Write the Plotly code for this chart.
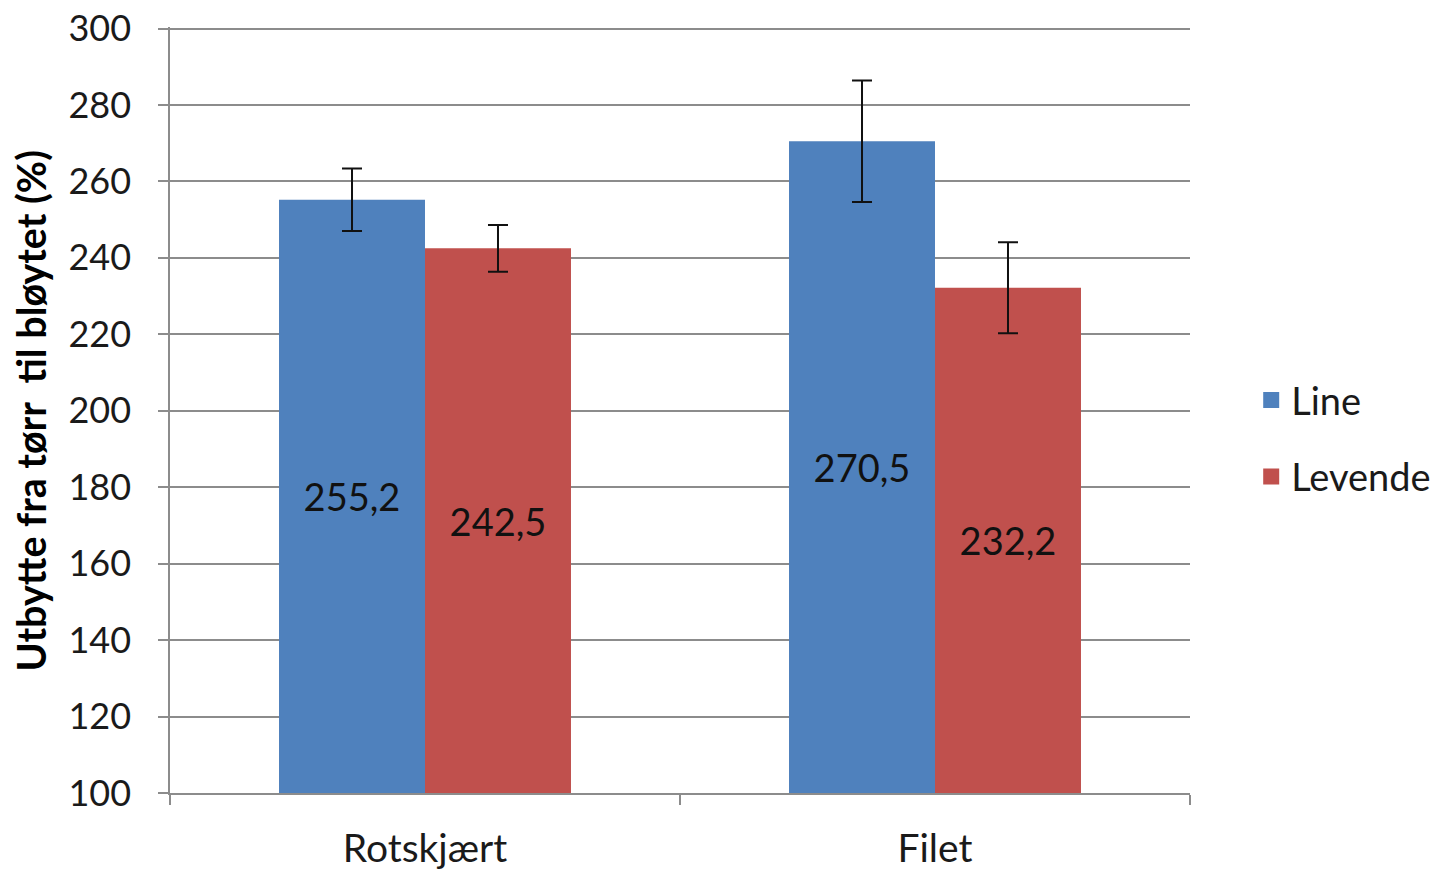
import plotly.graph_objects as go

categories = ["Rotskjært", "Filet"]
series_names = ["Line", "Levende"]
line_values = [255.2, 270.5]
levende_values = [242.5, 232.2]
line_errors = [8.2, 15.9]
levende_errors = [6.1, 11.9]
colors = ["#4F81BD", "#C0504D"]
y_ticks = [100, 120, 140, 160, 180, 200, 220, 240, 260, 280, 300]
axis_min = 100

FONT = "Lato"
TXT = "#1a1a1a"
GRID = "#8c8c8c"

fig = go.Figure()
for name, vals, errs, col in zip(series_names, [line_values, levende_values],
                                 [line_errors, levende_errors], colors):
    fig.add_trace(go.Bar(
        x=categories, y=[v - axis_min for v in vals], base=axis_min, name=name,
        customdata=vals,
        marker=dict(color=col, line=dict(width=0)),
        error_y=dict(type="data", array=errs, visible=True, color="#111111",
                     thickness=2, width=10),
        texttemplate="%{customdata:.1f}", textposition="inside", insidetextanchor="middle",
        textangle=0, textfont=dict(family=FONT, size=38, color="#111111"),
        hovertemplate="%{x}: %{customdata:.1f}<extra>" + name + "</extra>",
        showlegend=False,
    ))
    fig.add_trace(go.Scatter(
        x=[None], y=[None], mode="markers", name=name, legendgroup=name,
        marker=dict(symbol="square", size=25, color=col), showlegend=True,
    ))

fig.update_layout(
    width=1441, height=869,
    margin=dict(l=162, r=259, t=18.5, b=84),
    paper_bgcolor="white", plot_bgcolor="white",
    barmode="group", bargap=0.4275, bargroupgap=0,
    separators=", ",
    font=dict(family=FONT, size=36, color=TXT),
    legend=dict(x=1.06, y=0.463, xanchor="left", yanchor="middle",
                font=dict(family=FONT, size=38, color=TXT),
                tracegroupgap=24, bgcolor="rgba(0,0,0,0)"),
    showlegend=True,
)
fig.update_yaxes(
    range=[100, 300.4], tickvals=y_ticks, showgrid=True, gridcolor=GRID, gridwidth=1.5,
    showline=True, linecolor=GRID, linewidth=1.5, ticks="outside", ticklen=10,
    tickcolor=GRID, tickwidth=1.5, tickfont=dict(family=FONT, size=36, color=TXT),
    ticklabelstandoff=20, ticklabeloverflow="allow", zeroline=False, automargin=False,
)
fig.update_xaxes(
    showline=True, linecolor=GRID, linewidth=1.5, ticks="outside", ticklen=10,
    tickcolor=GRID, tickwidth=1.5, tickson="boundaries",
    tickfont=dict(family=FONT, size=39, color=TXT), ticklabelstandoff=20,
    ticklabeloverflow="allow", automargin=False,
)
fig.add_annotation(
    text="<b>Utbytte fra tørr\u00a0 til bløytet (%)</b>", textangle=-90,
    xref="paper", yref="paper", x=(31 - 170) / 1020, y=(793 - 411) / 765,
    xanchor="center", yanchor="middle", showarrow=False,
    font=dict(family=FONT, size=39.5, color="#000000"),
)

fig.write_html("out.html")
